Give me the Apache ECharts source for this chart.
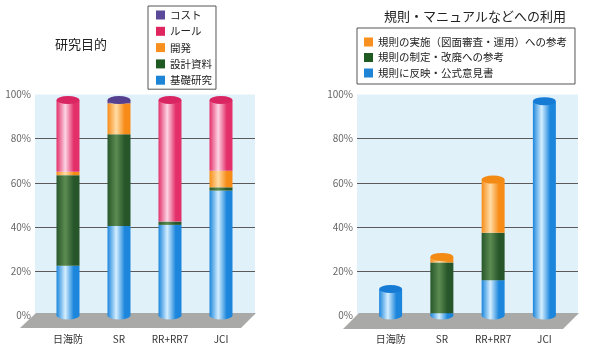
<!DOCTYPE html>
<html>
<head>
<meta charset="utf-8">
<script src="https://cdn.jsdelivr.net/npm/echarts@6/dist/echarts.min.js"></script>
<style>
  html, body { margin: 0; padding: 0; background: #fff; }
  #chart { width: 600px; height: 354px; }
</style>
</head>
<body>
<div id="chart"></div>
<script>
const categories = ["日海防", "SR", "RR+RR7", "JCI"];
const yTicks = [0, 20, 40, 60, 80, 100];

// 研究目的 (stack bottom to top)
const kiso = [22.5, 40.5, 41, 56.5];
const sekkei = [41, 41.5, 1.5, 1.5];
const kaihatsu = [1.5, 14, 0, 7.5];
const rule = [32.5, 0, 55, 32];
const cost = [0, 1.5, 0, 0];

// 規則・マニュアルなどへの利用
const hanei = [12, 1, 16, 97];
const seitei = [0, 23, 21.5, 0];
const jisshi = [0, 2.5, 24, 0];

const FONT = '"Noto Sans CJK JP", "Noto Sans", sans-serif';

const palette = {
  blue:   { base: "#1b86dc", light: "#d4eeff", cap: "#157bd4", icon: "#1e84d6" },
  green:  { base: "#27562a", light: "#5d8c52", cap: "#245026", icon: "#1f5a22" },
  orange: { base: "#f68c17", light: "#ffdca6", cap: "#f28a14", icon: "#f7901e" },
  pink:   { base: "#e3306a", light: "#fcd4e3", cap: "#d92662", icon: "#e0245e" },
  purple: { base: "#5a4396", light: "#a898d2", cap: "#55408f", icon: "#5b4a9a" }
};

function cyl(p) {
  return {
    type: "linear", x: 0, y: 0, x2: 1, y2: 0,
    colorStops: [
      { offset: 0, color: p.base },
      { offset: 0.38, color: p.light },
      { offset: 0.75, color: p.base },
      { offset: 1, color: p.base }
    ]
  };
}

function barSeries(name, data, p, xi) {
  return {
    name: name,
    type: "bar",
    stack: "s" + xi,
    xAxisIndex: xi,
    yAxisIndex: xi,
    barWidth: 23,
    data: data,
    itemStyle: { color: cyl(p) },
    z: 3
  };
}

function topCaps(list, xi) {
  // list: [[values, palette], ...] from bottom to top
  const data = categories.map((c, i) => {
    let total = 0, top = list[0][1];
    list.forEach(([vals, p]) => {
      total += vals[i];
      if (vals[i] > 0) top = p;
    });
    return { value: total, itemStyle: { color: top.cap } };
  });
  return {
    name: "cap" + xi,
    type: "pictorialBar",
    xAxisIndex: xi,
    yAxisIndex: xi,
    symbol: "circle",
    symbolSize: [23, 8],
    symbolPosition: "end",
    symbolOffset: [0, "-50%"],
    barGap: "-100%",
    data: data,
    z: 5,
    silent: true
  };
}

function bottomCaps(p, xi) {
  return {
    name: "base" + xi,
    type: "pictorialBar",
    xAxisIndex: xi,
    yAxisIndex: xi,
    symbol: "circle",
    symbolSize: [23, 8],
    symbolPosition: "start",
    symbolOffset: [0, "50%"],
    barGap: "-100%",
    data: categories.map(() => 0.001),
    itemStyle: { color: cyl(p) },
    z: 2,
    silent: true
  };
}

const chart = echarts.init(document.getElementById("chart"));

const wideGrid = (left, width) => ({
  left: left, top: 94.5, width: width, height: 221,
  show: true, backgroundColor: "#e1f1fa", borderWidth: 0
});
const barGrid = (left, width) => ({ left: left, top: 94.5, width: width, height: 221 });

const valueAxis = (gi, show) => ({
  type: "value", gridIndex: gi, min: 0, max: 100, interval: 20,
  axisLine: { show: false }, axisTick: { show: false },
  axisLabel: {
    show: show, margin: 4, formatter: "{value}%",
    color: "#666", fontSize: 10, fontFamily: FONT
  },
  splitLine: {
    show: show,
    lineStyle: { color: ["transparent", "#5a5a5a", "#5a5a5a", "#5a5a5a", "#5a5a5a", "transparent"], width: 1 }
  }
});

const catAxis = (gi, show) => ({
  type: "category", gridIndex: gi, data: categories,
  axisLine: { show: false }, axisTick: { show: false },
  axisLabel: { show: show, margin: 19, color: "#333", fontSize: 10, fontFamily: FONT }
});

const legendBase = {
  orient: "vertical",
  icon: "rect",
  itemWidth: 9,
  itemHeight: 9,
  itemGap: 4.3,
  borderColor: "#555",
  borderWidth: 1,
  selectedMode: false,
  textStyle: { fontSize: 10.5, lineHeight: 12, color: "#222", fontFamily: FONT }
};

const legItem = (name, p) => ({ name: name, itemStyle: { color: p.icon } });

chart.setOption({
  animation: false,
  title: [
    { text: "研究目的", left: 50, top: 33, textStyle: { fontSize: 13, fontWeight: "normal", color: "#222", fontFamily: FONT } },
    { text: "規則・マニュアルなどへの利用", left: 470, textAlign: "center", top: 5, textStyle: { fontSize: 13, fontWeight: "normal", color: "#222", fontFamily: FONT } }
  ],
  legend: [
    Object.assign({}, legendBase, {
      left: 148, top: 6, padding: [3, 4, 3, 8],
      data: [
        legItem("コスト", palette.purple),
        legItem("ルール", palette.pink),
        legItem("開発", palette.orange),
        legItem("設計資料", palette.green),
        legItem("基礎研究", palette.blue)
      ]
    }),
    Object.assign({}, legendBase, {
      left: 357, top: 28, padding: [8, 8, 5, 7], itemGap: 3.5,
      data: [
        legItem("規則の実施（図面審査・運用）への参考", palette.orange),
        legItem("規則の制定・改廃への参考", palette.green),
        legItem("規則に反映・公式意見書", palette.blue)
      ]
    })
  ],
  grid: [wideGrid(35, 220), barGrid(42.5, 204), wideGrid(357, 221), barGrid(365, 205)],
  xAxis: [catAxis(0, false), catAxis(1, true), catAxis(2, false), catAxis(3, true)],
  yAxis: [valueAxis(0, true), valueAxis(1, false), valueAxis(2, true), valueAxis(3, false)],
  graphic: [
    { type: "polygon", z: 1, shape: { points: [[20, 328], [36, 313], [256, 313], [241, 328]] }, style: { fill: "#a9aaa8" } },
    { type: "polygon", z: 1, shape: { points: [[343, 329], [359, 313], [579, 313], [563, 329]] }, style: { fill: "#a9aaa8" } }
  ],
  series: [
    bottomCaps(palette.blue, 1),
    barSeries("基礎研究", kiso, palette.blue, 1),
    barSeries("設計資料", sekkei, palette.green, 1),
    barSeries("開発", kaihatsu, palette.orange, 1),
    barSeries("ルール", rule, palette.pink, 1),
    barSeries("コスト", cost, palette.purple, 1),
    topCaps([[kiso, palette.blue], [sekkei, palette.green], [kaihatsu, palette.orange], [rule, palette.pink], [cost, palette.purple]], 1),

    bottomCaps(palette.blue, 3),
    barSeries("規則に反映・公式意見書", hanei, palette.blue, 3),
    barSeries("規則の制定・改廃への参考", seitei, palette.green, 3),
    barSeries("規則の実施（図面審査・運用）への参考", jisshi, palette.orange, 3),
    topCaps([[hanei, palette.blue], [seitei, palette.green], [jisshi, palette.orange]], 3)
  ]
});
</script>
</body>
</html>
